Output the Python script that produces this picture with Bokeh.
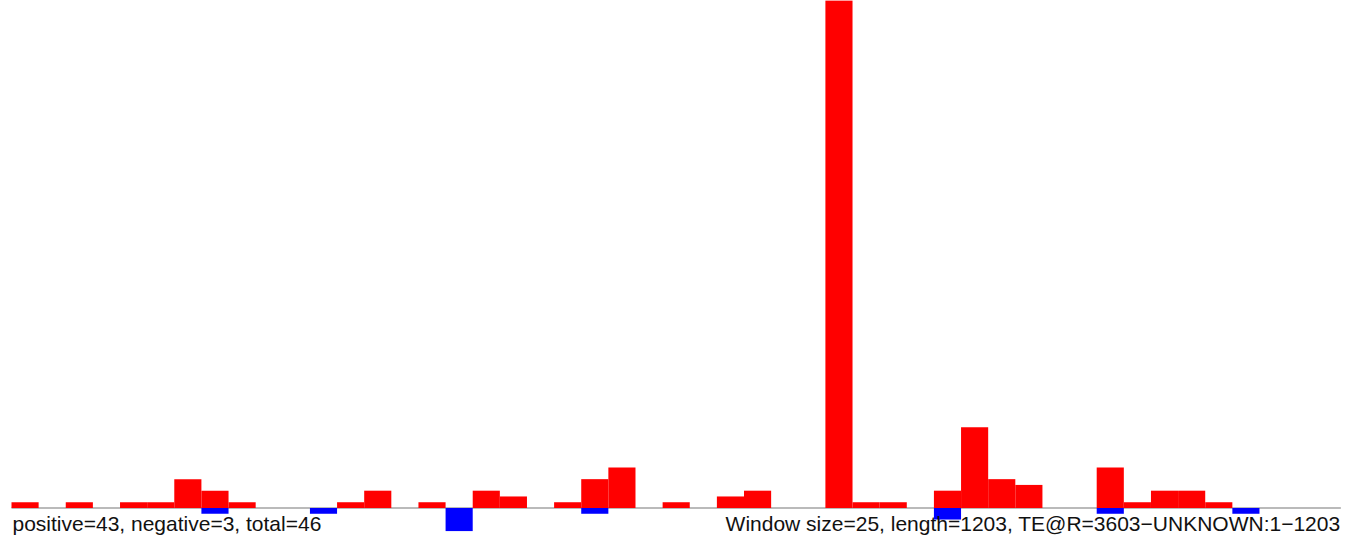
from bokeh.plotting import figure
from bokeh.models import Range1d, Label, ColumnDataSource
from bokeh.embed import file_html
from bokeh.resources import INLINE

# Data
window = 25
length = 1203
pos_bins = [0, 2, 4, 5, 6, 7, 8, 12, 13, 15, 17, 18, 20, 21, 22, 24, 26, 27,
            30, 31, 32, 34, 35, 36, 37, 40, 41, 42, 43, 44]
pos_vals = [1, 1, 1, 1, 5, 3, 1, 1, 3, 1, 3, 2, 1, 5, 7, 1, 2, 3,
            88, 1, 1, 3, 14, 5, 4, 7, 1, 3, 3, 1]
neg_bins = [7, 11, 16, 21, 34, 40, 45]
neg_vals = [-1, -1, -4, -1, -2, -1, -1]
left_text = "positive=43, negative=3, total=46"
right_text = "Window size=25, length=1203, TE@R=3603\u2212UNKNOWN:1\u22121203"

n_bins = -(-length // window)

W, H = 1344, 539
px_per_unit = 27.13 / window
x0_px = 11
y0_px = 507.5
px_per_val = 5.77

p = figure(width=W, height=H, output_backend="svg", toolbar_location=None,
           min_border_left=0, min_border_right=0, min_border_top=0, min_border_bottom=0)
p.x_range = Range1d(-x0_px / px_per_unit, (W - x0_px) / px_per_unit)
p.y_range = Range1d(-(H - y0_px) / px_per_val, y0_px / px_per_val)
p.axis.visible = False
p.xaxis.visible = False
p.yaxis.visible = False
p.grid.visible = False
p.outline_line_color = None
p.background_fill_color = "white"
p.border_fill_color = "white"

p.segment(x0=[0], y0=[0], x1=[n_bins * window], y1=[0], line_color="#777777", line_width=1.2)

pos_src = ColumnDataSource(dict(left=[b * window for b in pos_bins],
                                right=[(b + 1) * window for b in pos_bins],
                                top=pos_vals, bottom=[0] * len(pos_vals)))
neg_src = ColumnDataSource(dict(left=[b * window for b in neg_bins],
                                right=[(b + 1) * window for b in neg_bins],
                                top=[0] * len(neg_vals), bottom=neg_vals))
p.quad(left="left", right="right", top="top", bottom="bottom", source=pos_src,
       fill_color="#FF0000", line_color=None)
p.quad(left="left", right="right", top="top", bottom="bottom", source=neg_src,
       fill_color="#0000FF", line_color=None)

font = "Liberation Sans"
p.add_layout(Label(x=12, y=16, x_units="screen", y_units="screen", text=left_text,
                   text_font=font, text_font_size="21px", text_color="#111111",
                   text_baseline="alphabetic", text_align="left"))
p.add_layout(Label(x=1340, y=16, x_units="screen", y_units="screen", text=right_text,
                   text_font=font, text_font_size="21px", text_color="#111111",
                   text_baseline="alphabetic", text_align="right"))

open("out.html", "w").write(file_html(p, INLINE))
